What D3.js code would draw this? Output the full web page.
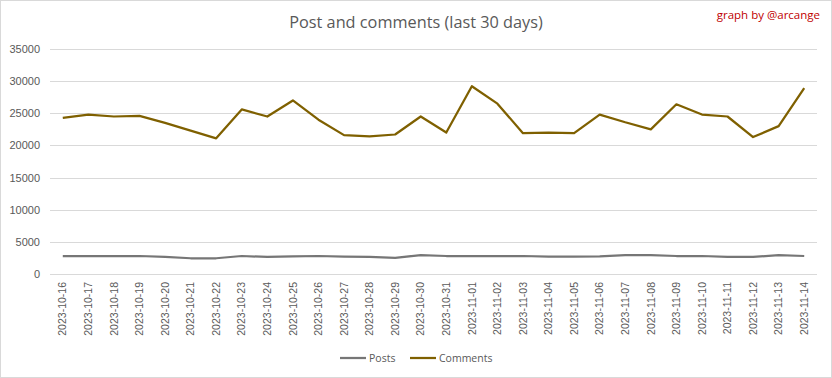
<!DOCTYPE html>
<html>
<head>
<meta charset="utf-8">
<script src="https://cdn.jsdelivr.net/npm/d3@7"></script>
<style>
  body { margin: 0; background: #fff; }
  svg { display: block; font-family: "Open Sans", "Liberation Sans", sans-serif; }
</style>
</head>
<body>
<div class="chart"></div>
<script>
// data
var dates = ["2023-10-16","2023-10-17","2023-10-18","2023-10-19","2023-10-20","2023-10-21","2023-10-22",
  "2023-10-23","2023-10-24","2023-10-25","2023-10-26","2023-10-27","2023-10-28","2023-10-29","2023-10-30",
  "2023-10-31","2023-11-01","2023-11-02","2023-11-03","2023-11-04","2023-11-05","2023-11-06","2023-11-07",
  "2023-11-08","2023-11-09","2023-11-10","2023-11-11","2023-11-12","2023-11-13","2023-11-14"];
var posts = [2800,2800,2800,2800,2650,2450,2450,2800,2650,2750,2800,2700,2650,2500,2950,
  2800,2800,2800,2800,2700,2700,2750,2950,2950,2800,2800,2650,2650,2950,2800];
var comments = [24300,24800,24500,24600,23500,22300,21100,25600,24500,27000,24000,21600,21400,21700,24500,
  22000,29200,26500,21900,22000,21900,24800,23600,22500,26400,24800,24500,21300,23000,28900];
var yTicks = [0,5000,10000,15000,20000,25000,30000,35000];

var W = 832, H = 378;
var margin = {left: 50, right: 15, top: 49, bottom: 104};

var svg = d3.select(".chart").append("svg")
  .attr("width", W)
  .attr("height", H);

svg.append("rect")
  .attr("x", 0.5).attr("y", 0.5)
  .attr("width", W - 1).attr("height", H - 1)
  .attr("fill", "#fff").attr("stroke", "#d9d9d9");

var x = d3.scaleBand().domain(dates).range([margin.left, W - margin.right]);
var y = d3.scaleLinear().domain([0, 35000]).range([H - margin.bottom, margin.top]);

// gridlines
svg.append("g")
  .selectAll("line")
  .data(yTicks)
  .enter().append("line")
  .attr("x1", margin.left).attr("x2", W - margin.right)
  .attr("y1", function (d) { return Math.round(y(d)) + 0.5; })
  .attr("y2", function (d) { return Math.round(y(d)) + 0.5; })
  .attr("stroke", "#d9d9d9").attr("stroke-width", 1);

// y labels
var yAxis = svg.append("g")
  .attr("transform", "translate(" + (margin.left - 10) + ",0)")
  .call(d3.axisLeft(y).tickValues(yTicks).tickFormat(d3.format("d")).tickSize(0).tickPadding(0));
yAxis.select(".domain").remove();
yAxis.selectAll("text")
  .attr("fill", "#595959").style("font-size", "11px");

// x labels
var xAxis = svg.append("g")
  .attr("transform", "translate(0," + (H - margin.bottom) + ")")
  .call(d3.axisBottom(x).tickSize(0));
xAxis.select(".domain").remove();
xAxis.selectAll("text")
  .attr("fill", "#595959").style("font-size", "10.5px")
  .attr("transform", "rotate(-90)")
  .attr("text-anchor", "end")
  .attr("dy", "0.35em")
  .attr("x", -8).attr("y", 0);

var line = function (vals) {
  return d3.line()
    .x(function (d, i) { return x(dates[i]) + x.bandwidth() / 2; })
    .y(function (d) { return y(d); })(vals);
};

svg.append("path").attr("d", line(posts))
  .attr("fill", "none").attr("stroke", "#767676").attr("stroke-width", 2.25)
  .attr("stroke-linejoin", "round");
svg.append("path").attr("d", line(comments))
  .attr("fill", "none").attr("stroke", "#7f6000").attr("stroke-width", 2.25)
  .attr("stroke-linejoin", "round");

// title
svg.append("text")
  .attr("x", 416).attr("y", 28)
  .attr("text-anchor", "middle")
  .attr("fill", "#595959").style("font-size", "16.3px")
  .text("Post and comments (last 30 days)");

svg.append("text")
  .attr("x", 820).attr("y", 19)
  .attr("text-anchor", "end")
  .attr("fill", "#c00000").style("font-size", "11.5px")
  .text("graph by @arcange");

// legend
var legend = [{name: "Posts", color: "#767676", x: 340}, {name: "Comments", color: "#7f6000", x: 410}];
var lg = svg.selectAll(".leg").data(legend).enter().append("g").attr("class", "leg");
lg.append("line")
  .attr("x1", function (d) { return d.x; }).attr("x2", function (d) { return d.x + 26; })
  .attr("y1", 358).attr("y2", 358)
  .attr("stroke", function (d) { return d.color; }).attr("stroke-width", 2.25);
lg.append("text")
  .attr("x", function (d) { return d.x + 29; }).attr("y", 358)
  .attr("dy", "0.35em")
  .attr("fill", "#595959").style("font-size", "10.5px")
  .text(function (d) { return d.name; });
</script>
</body>
</html>
